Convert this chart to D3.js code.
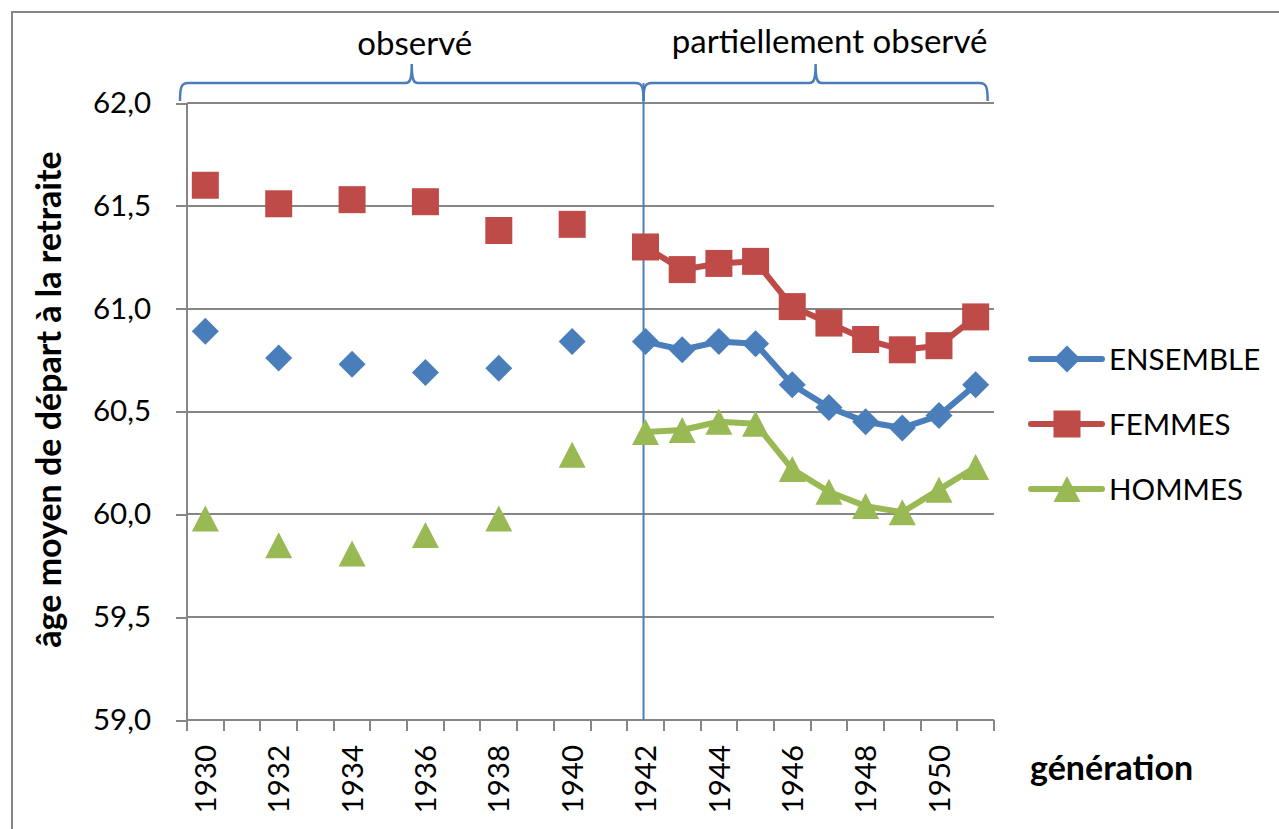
<!DOCTYPE html>
<html lang="fr">
<head>
    <meta charset="UTF-8">
    <title>Âge moyen de départ à la retraite</title>
    <style>
        body {
            margin: 0;
            background-color: #ffffff;
            overflow: hidden;
            font-family: Lato, "Open Sans", sans-serif;
        }
        svg {
            display: block;
        }
        .grid line, .axis path, .axis line {
            stroke: #868686;
            stroke-width: 2;
            shape-rendering: crispEdges;
        }
        .axis text {
            font-family: Lato, sans-serif;
            font-size: 29.5px;
            fill: #000;
        }
        .title {
            font-family: Lato, sans-serif;
            font-weight: bold;
            font-size: 34px;
            fill: #000;
        }
        .note {
            font-family: Lato, sans-serif;
            font-size: 33px;
            fill: #000;
        }
        .legend text {
            font-family: Lato, sans-serif;
            font-size: 29.5px;
            fill: #000;
        }
    </style>
</head>
<body>
    <svg id="chart"></svg>

    <script src="https://d3js.org/d3.v7.min.js"></script>
    <script>
        // categories (one per generation, odd years before 1942 have no value)
        const generations = ["1930", "1931", "1932", "1933", "1934", "1935", "1936", "1937",
            "1938", "1939", "1940", "1941", "1942", "1943", "1944", "1945", "1946", "1947",
            "1948", "1949", "1950", "1951"];
        const tickLabels = ["1930", "1932", "1934", "1936", "1938", "1940", "1942", "1944",
            "1946", "1948", "1950"];
        const yTicks = [59.0, 59.5, 60.0, 60.5, 61.0, 61.5, 62.0];

        const ensemble = [60.89, null, 60.76, null, 60.73, null, 60.69, null, 60.71, null, 60.84, null,
            60.84, 60.80, 60.84, 60.83, 60.63, 60.52, 60.45, 60.42, 60.48, 60.63];
        const femmes = [61.60, null, 61.51, null, 61.53, null, 61.52, null, 61.38, null, 61.41, null,
            61.30, 61.19, 61.22, 61.23, 61.01, 60.93, 60.85, 60.80, 60.82, 60.96];
        const hommes = [59.98, null, 59.85, null, 59.81, null, 59.90, null, 59.98, null, 60.29, null,
            60.40, 60.41, 60.45, 60.44, 60.22, 60.11, 60.04, 60.01, 60.12, 60.23];

        const seriesNames = ["ENSEMBLE", "FEMMES", "HOMMES"];
        const seriesValues = [ensemble, femmes, hommes];
        const seriesColours = ["#4a7ebb", "#be4b48", "#98b954"];

        const totalWidth = 1279, totalHeight = 829;
        const margin = { top: 103, right: 285, bottom: 109, left: 187 },
              width = totalWidth - margin.left - margin.right,
              height = totalHeight - margin.top - margin.bottom;

        const root = d3.select("#chart")
            .attr("width", totalWidth)
            .attr("height", totalHeight);

        // outer chart frame (right and bottom edges fall outside the picture)
        root.append("rect")
            .attr("x", 12).attr("y", 12)
            .attr("width", totalWidth + 20).attr("height", totalHeight + 20)
            .attr("fill", "none")
            .attr("stroke", "#868686")
            .attr("stroke-width", 2);

        const svg = root.append("g")
            .attr("transform", `translate(${margin.left},${margin.top})`);

        const x = d3.scaleBand()
            .domain(generations)
            .range([0, width]);

        const y = d3.scaleLinear()
            .domain([59, 62])
            .range([height, 0]);

        const cx = d => x(d) + x.bandwidth() / 2;
        const frFormat = d3.formatLocale({ decimal: ",", thousands: " ", grouping: [3], currency: ["", " €"] }).format(".1f");

        // horizontal gridlines
        svg.append("g")
            .attr("class", "grid")
            .selectAll("line")
            .data(yTicks)
            .enter().append("line")
            .attr("x1", 0)
            .attr("x2", width)
            .attr("y1", d => y(d))
            .attr("y2", d => y(d));

        // y axis
        const yAxis = svg.append("g")
            .attr("class", "axis")
            .call(d3.axisLeft(y).tickValues(yTicks).tickSize(11).tickPadding(25).tickFormat(frFormat));
        yAxis.select(".domain").attr("d", `M0,${height}V0`);

        // x axis: labels every other category, tick marks between every category
        const xAxis = svg.append("g")
            .attr("class", "axis")
            .attr("transform", `translate(0,${height})`)
            .call(d3.axisBottom(x).tickValues(tickLabels).tickSize(0));
        xAxis.select(".domain").attr("d", `M0,0H${width}`);
        xAxis.selectAll("text")
            .attr("transform", "rotate(-90)")
            .attr("x", -25)
            .attr("y", 0)
            .attr("dy", "0.36em")
            .style("text-anchor", "end");

        xAxis.selectAll(".sep")
            .data(d3.range(generations.length + 1))
            .enter().append("line")
            .attr("class", "sep")
            .attr("x1", i => i * x.step())
            .attr("x2", i => i * x.step())
            .attr("y1", 0)
            .attr("y2", 11);

        // observed / partially observed separator and braces
        const sepX = cx("1942");
        const leftX = -7;
        const rightX = cx("1951") + 12;
        const braceY = -20, tipY = -39, endY = -2;

        function brace(x0, x1) {
            const xm = (x0 + x1) / 2;
            return `M${x0},${endY} C${x0},${braceY + 5} ${x0 + 1},${braceY} ${x0 + 8},${braceY}` +
                ` L${xm - 6},${braceY} C${xm - 2},${braceY} ${xm},${braceY - 3} ${xm},${tipY}` +
                ` C${xm},${braceY - 3} ${xm + 2},${braceY} ${xm + 6},${braceY}` +
                ` L${x1 - 8},${braceY} C${x1 - 1},${braceY} ${x1},${braceY + 5} ${x1},${endY}`;
        }

        svg.append("line")
            .attr("x1", sepX - 2).attr("x2", sepX - 2)
            .attr("y1", braceY).attr("y2", height)
            .attr("stroke", "#4a7ebb")
            .attr("stroke-width", 2);

        [[leftX, sepX - 2], [sepX - 2, rightX]].forEach(([a, b]) => {
            svg.append("path")
                .attr("d", brace(a, b))
                .attr("fill", "none")
                .attr("stroke", "#4a7ebb")
                .attr("stroke-width", 2.5);
        });

        svg.append("text")
            .attr("class", "note")
            .attr("x", (leftX + sepX) / 2 + 2)
            .attr("y", -48)
            .style("text-anchor", "middle")
            .text("observé");

        svg.append("text")
            .attr("class", "note")
            .attr("x", (sepX + rightX) / 2 + 13)
            .attr("y", -50)
            .style("text-anchor", "middle")
            .text("partiellement observé");

        // marker shapes, centred on their point
        const markers = [
            "M0,-13.5L13.5,0L0,13.5L-13.5,0Z",
            "M-13.5,-13.5H13.5V13.5H-13.5Z",
            "M0,-13L13.5,13L-13.5,13Z"
        ];

        const line = d3.line()
            .defined(d => d.v != null)
            .x(d => cx(d.g))
            .y(d => y(d.v));

        seriesValues.forEach((vals, s) => {
            const pts = generations.map((g, i) => ({ g: g, v: vals[i] }));
            svg.append("path")
                .datum(pts)
                .attr("d", line)
                .attr("fill", "none")
                .attr("stroke", seriesColours[s])
                .attr("stroke-width", 6)
                .attr("stroke-linejoin", "round");

            svg.append("g")
                .selectAll("path")
                .data(pts.filter(d => d.v != null))
                .enter().append("path")
                .attr("d", markers[s])
                .attr("transform", d => `translate(${cx(d.g)},${y(d.v)})`)
                .attr("fill", seriesColours[s]);
        });

        // axis titles
        root.append("text")
            .attr("class", "title")
            .attr("transform", `translate(61,${margin.top + height / 2 - 12}) rotate(-90)`)
            .style("text-anchor", "middle")
            .text("âge moyen de départ à la retraite");

        root.append("text")
            .attr("class", "title")
            .attr("x", 1030)
            .attr("y", 780)
            .text("génération");

        // legend
        const legend = root.append("g").attr("class", "legend");
        seriesNames.forEach((name, s) => {
            const ly = 359 + s * 65;
            legend.append("line")
                .attr("x1", 1031).attr("x2", 1102)
                .attr("y1", ly).attr("y2", ly)
                .attr("stroke", seriesColours[s])
                .attr("stroke-width", 6)
                .attr("stroke-linecap", "round");
            legend.append("path")
                .attr("d", markers[s])
                .attr("transform", `translate(1067,${ly})`)
                .attr("fill", seriesColours[s]);
            legend.append("text")
                .attr("x", 1109)
                .attr("y", ly)
                .attr("dy", "0.36em")
                .text(name);
        });
    </script>
</body>
</html>
